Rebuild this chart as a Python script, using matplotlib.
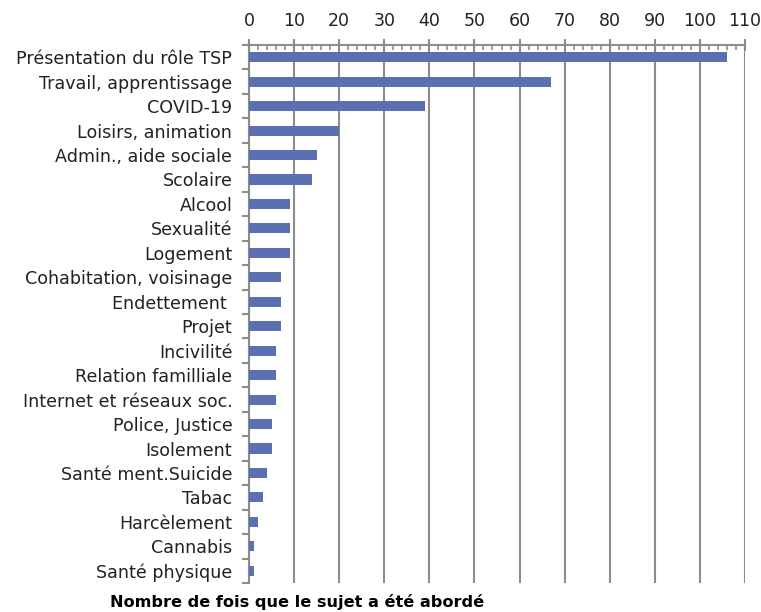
import matplotlib.pyplot as plt
from matplotlib.ticker import MultipleLocator, FixedLocator
import numpy as np

# Sujets abordés et nombre d'occurrences
sujets = ['Présentation du rôle TSP', 'Travail, apprentissage', 'COVID-19',
          'Loisirs, animation', 'Admin., aide sociale', 'Scolaire', 'Alcool',
          'Sexualité', 'Logement', 'Cohabitation, voisinage', 'Endettement ',
          'Projet', 'Incivilité', 'Relation familliale', 'Internet et réseaux soc.',
          'Police, Justice', 'Isolement', 'Santé ment.Suicide', 'Tabac',
          'Harcèlement', 'Cannabis', 'Santé physique']
occurrences = [106, 67, 39, 20, 15, 14, 9, 9, 9, 7, 7, 7, 6, 6, 6, 5, 5, 4, 3, 2, 1, 1]

gris = '#8c8c8c'

fig = plt.figure(figsize=(7.61, 6.12), dpi=100)
ax = fig.add_axes([249/761, 1 - 583/612, (745 - 249)/761, (583 - 45)/612])

y = np.arange(len(sujets))
ax.barh(y, occurrences, height=0.41, color='#5b70b3', zorder=3)

ax.set_xlim(0, 110)
ax.set_ylim(len(sujets) - 0.5, -0.5)

# Axe x en haut
ax.xaxis.tick_top()
ax.xaxis.set_major_locator(MultipleLocator(10))
ax.xaxis.set_minor_locator(MultipleLocator(2))
ax.tick_params(axis='x', which='major', direction='inout', length=8, width=1.5,
               color=gris, labelsize=12.5, labelcolor='#222222', pad=7)
ax.tick_params(axis='x', which='minor', direction='in', length=3.5, width=1.2, color=gris)
ax.grid(axis='x', color=gris, linewidth=1.5, zorder=0)

# Axe y : libellés au centre, graduations entre les catégories
ax.set_yticks(y)
ax.set_yticklabels(sujets)
ax.yaxis.set_minor_locator(FixedLocator(np.arange(-0.5, len(sujets), 1)))
ax.tick_params(axis='y', which='major', length=0, labelsize=12.6,
               labelcolor='#222222', pad=12)
ax.tick_params(axis='y', which='minor', direction='out', length=5, width=1.5, color=gris)

for s in ['right', 'bottom']:
    ax.spines[s].set_visible(False)
for s in ['top', 'left']:
    ax.spines[s].set_color(gris)
    ax.spines[s].set_linewidth(1.5)

fig.text(110/761, 1 - 602/612, 'Nombre de fois que le sujet a été abordé',
         fontsize=11.6, fontweight='bold', ha='left', va='center')

plt.savefig('out.png')
